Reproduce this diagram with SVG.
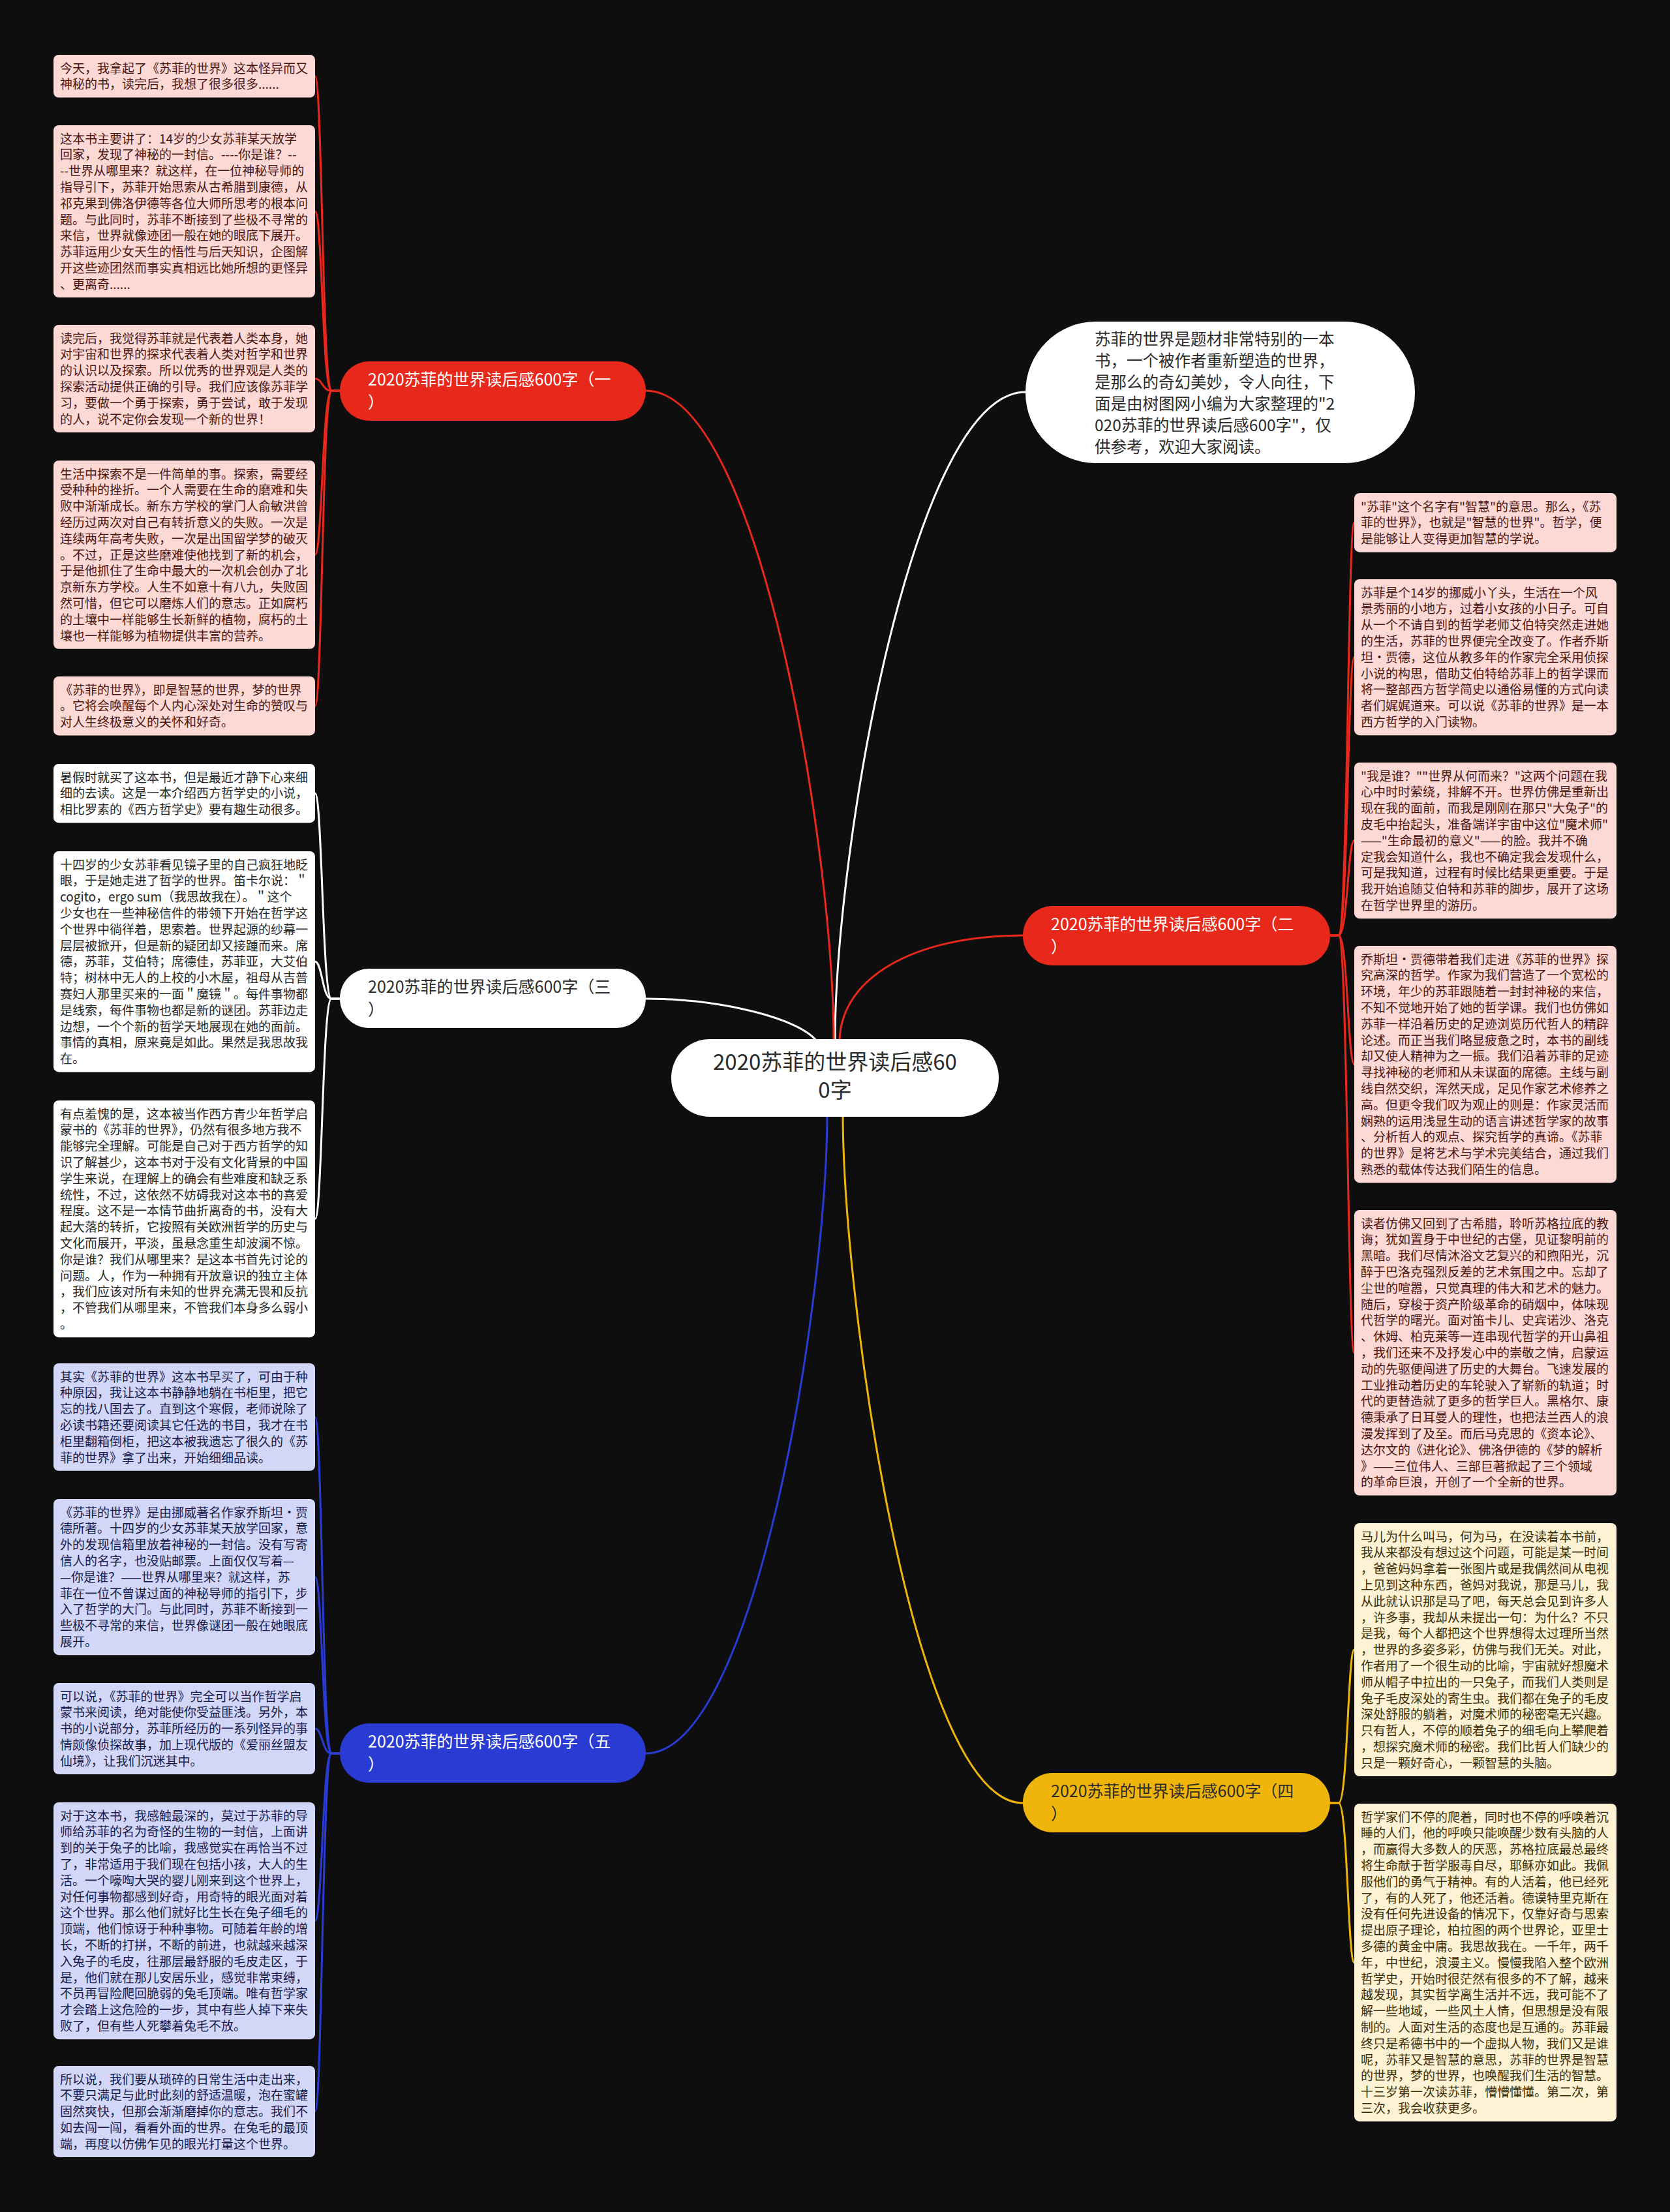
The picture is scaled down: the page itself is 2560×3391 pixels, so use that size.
<svg xmlns="http://www.w3.org/2000/svg" width="2560" height="3391" viewBox="0 0 2560 3391">
<style>
text{font-family:"Noto Sans CJK SC","Noto Sans",sans-serif}
.lf{font-size:19px}
.bt{font-size:25px}
.rl rect{fill:#fdd9d5}.rl text{fill:#4a1510}
.wl rect{fill:#ffffff}.wl text{fill:#262626}
.bl rect{fill:#d3d7f7}.bl text{fill:#161a4c}
.yl rect{fill:#fdf2d4}.yl text{fill:#3b2e05}
.c{fill:none;stroke-width:3}
.cr{stroke:#e8281b}.cw{stroke:#ffffff}.cb{stroke:#2a3bd4}.cy{stroke:#f0b50a}
</style>
<rect x="0" y="0" width="2560" height="3391" fill="#0e0e0e"/>
<g id="connectors">
<path class="c cw" d="M1280 1598 C1280 1300 1400 601 1572 601"/>
<path class="c cr" d="M1278 1598 C1278 1300 1163 599 990 599"/>
<path class="c cr" d="M1287 1598 C1287 1500 1400 1434 1568 1434"/>
<path class="c cw" d="M1255 1600 C1230 1560 1100 1531 990 1531"/>
<path class="c cb" d="M1268 1705 C1268 1995 1157 2688 990 2688"/>
<path class="c cy" d="M1292 1705 C1292 1995 1400 2764 1568 2764"/>
<path class="c cr" d="M521 599 H508 C494 599 494 116.8 483 116.8"/>
<path class="c cr" d="M521 599 H508 C494 599 494 324 483 324"/>
<path class="c cr" d="M521 599 H508 C494 599 494 580.4 483 580.4"/>
<path class="c cr" d="M521 599 H508 C494 599 494 850.4 483 850.4"/>
<path class="c cr" d="M521 599 H508 C494 599 494 1082.2 483 1082.2"/>
<path class="c cw" d="M521 1531 H508 C494 1531 494 1216.2 483 1216.2"/>
<path class="c cw" d="M521 1531 H508 C494 1531 494 1474.2 483 1474.2"/>
<path class="c cw" d="M521 1531 H508 C494 1531 494 1868.6 483 1868.6"/>
<path class="c cb" d="M521 2688 H508 C494 2688 494 2172.4 483 2172.4"/>
<path class="c cb" d="M521 2688 H508 C494 2688 494 2417.6 483 2417.6"/>
<path class="c cb" d="M521 2688 H508 C494 2688 494 2650 483 2650"/>
<path class="c cb" d="M521 2688 H508 C494 2688 494 2944.6 483 2944.6"/>
<path class="c cb" d="M521 2688 H508 C494 2688 494 3237 483 3237"/>
<path class="c cr" d="M2039 1434 H2052 C2066 1434 2066 801.2 2076 801.2"/>
<path class="c cr" d="M2039 1434 H2052 C2066 1434 2066 1007.6 2076 1007.6"/>
<path class="c cr" d="M2039 1434 H2052 C2066 1434 2066 1288.6 2076 1288.6"/>
<path class="c cr" d="M2039 1434 H2052 C2066 1434 2066 1631.6 2076 1631.6"/>
<path class="c cr" d="M2039 1434 H2052 C2066 1434 2066 2073.8 2076 2073.8"/>
<path class="c cy" d="M2039 2764 H2052 C2066 2764 2066 2529 2076 2529"/>
<path class="c cy" d="M2039 2764 H2052 C2066 2764 2066 3008.6 2076 3008.6"/>
</g>
<g id="center">
<rect x="1029" y="1593" width="502" height="119" rx="59" fill="#ffffff"/>
<text x="1280" y="1640" text-anchor="middle" font-size="33" fill="#2b2b2b">2020苏菲的世界读后感60</text>
<text x="1280" y="1683" text-anchor="middle" font-size="33" fill="#2b2b2b">0字</text>
</g>
<g id="intro">
<rect x="1572" y="493" width="597" height="217" rx="108" fill="#ffffff"/>
<text font-size="24.5" fill="#2b2b2b">
<tspan x="1678" y="529">苏菲的世界是题材非常特别的一本</tspan>
<tspan x="1678" y="562">书，一个被作者重新塑造的世界，</tspan>
<tspan x="1678" y="595">是那么的奇幻美妙，令人向往，下</tspan>
<tspan x="1678" y="628">面是由树图网小编为大家整理的"2</tspan>
<tspan x="1678" y="661">020苏菲的世界读后感600字"，仅</tspan>
<tspan x="1678" y="694">供参考，欢迎大家阅读。</tspan>
</text>
</g>
<g id="b1">
<rect x="521" y="554" width="469" height="91" rx="45" fill="#e8281b"/>
<text class="bt" fill="#ffffff"><tspan x="564" y="591">2020苏菲的世界读后感600字（一</tspan><tspan x="564" y="626">）</tspan></text>
</g>
<g id="b2">
<rect x="1568" y="1389" width="471" height="91" rx="45" fill="#e8281b"/>
<text class="bt" fill="#ffffff"><tspan x="1611" y="1426">2020苏菲的世界读后感600字（二</tspan><tspan x="1611" y="1461">）</tspan></text>
</g>
<g id="b3">
<rect x="521" y="1485" width="469" height="91" rx="45" fill="#ffffff"/>
<text class="bt" fill="#2b2b2b"><tspan x="564" y="1522">2020苏菲的世界读后感600字（三</tspan><tspan x="564" y="1557">）</tspan></text>
</g>
<g id="b4">
<rect x="1568" y="2718" width="471" height="91" rx="45" fill="#f0b50a"/>
<text class="bt" fill="#2b2b2b"><tspan x="1611" y="2755">2020苏菲的世界读后感600字（四</tspan><tspan x="1611" y="2790">）</tspan></text>
</g>
<g id="b5">
<rect x="521" y="2642" width="469" height="91" rx="45" fill="#2a3bd4"/>
<text class="bt" fill="#ffffff"><tspan x="564" y="2679">2020苏菲的世界读后感600字（五</tspan><tspan x="564" y="2714">）</tspan></text>
</g>
<g id="L1" class="rl" transform="translate(82,84)">
<rect width="401" height="65.6" rx="8"/>
<text class="lf"><tspan x="10" y="27.6">今天，我拿起了《苏菲的世界》这本怪异而又</tspan><tspan x="10" dy="24.8">神秘的书，读完后，我想了很多很多......</tspan></text>
</g>
<g id="L2" class="rl" transform="translate(82,192)">
<rect width="401" height="264" rx="8"/>
<text class="lf"><tspan x="10" y="27.6">这本书主要讲了：14岁的少女苏菲某天放学</tspan><tspan x="10" dy="24.8">回家，发现了神秘的一封信。----你是谁？--</tspan><tspan x="10" dy="24.8">--世界从哪里来？就这样，在一位神秘导师的</tspan><tspan x="10" dy="24.8">指导引下，苏菲开始思索从古希腊到康德，从</tspan><tspan x="10" dy="24.8">祁克果到佛洛伊德等各位大师所思考的根本问</tspan><tspan x="10" dy="24.8">题。与此同时，苏菲不断接到了些极不寻常的</tspan><tspan x="10" dy="24.8">来信，世界就像迹团一般在她的眼底下展开。</tspan><tspan x="10" dy="24.8">苏菲运用少女天生的悟性与后天知识，企图解</tspan><tspan x="10" dy="24.8">开这些迹团然而事实真相远比她所想的更怪异</tspan><tspan x="10" dy="24.8">、更离奇......</tspan></text>
</g>
<g id="L3" class="rl" transform="translate(82,498)">
<rect width="401" height="164.8" rx="8"/>
<text class="lf"><tspan x="10" y="27.6">读完后，我觉得苏菲就是代表着人类本身，她</tspan><tspan x="10" dy="24.8">对宇宙和世界的探求代表着人类对哲学和世界</tspan><tspan x="10" dy="24.8">的认识以及探索。所以优秀的世界观是人类的</tspan><tspan x="10" dy="24.8">探索活动提供正确的引导。我们应该像苏菲学</tspan><tspan x="10" dy="24.8">习，要做一个勇于探索，勇于尝试，敢于发现</tspan><tspan x="10" dy="24.8">的人，说不定你会发现一个新的世界！</tspan></text>
</g>
<g id="L4" class="rl" transform="translate(82,706)">
<rect width="401" height="288.8" rx="8"/>
<text class="lf"><tspan x="10" y="27.6">生活中探索不是一件简单的事。探索，需要经</tspan><tspan x="10" dy="24.8">受种种的挫折。一个人需要在生命的磨难和失</tspan><tspan x="10" dy="24.8">败中渐渐成长。新东方学校的掌门人俞敏洪曾</tspan><tspan x="10" dy="24.8">经历过两次对自己有转折意义的失败。一次是</tspan><tspan x="10" dy="24.8">连续两年高考失败，一次是出国留学梦的破灭</tspan><tspan x="10" dy="24.8">。不过，正是这些磨难使他找到了新的机会，</tspan><tspan x="10" dy="24.8">于是他抓住了生命中最大的一次机会创办了北</tspan><tspan x="10" dy="24.8">京新东方学校。人生不如意十有八九，失败固</tspan><tspan x="10" dy="24.8">然可惜，但它可以磨炼人们的意志。正如腐朽</tspan><tspan x="10" dy="24.8">的土壤中一样能够生长新鲜的植物，腐朽的土</tspan><tspan x="10" dy="24.8">壤也一样能够为植物提供丰富的营养。</tspan></text>
</g>
<g id="L5" class="rl" transform="translate(82,1037)">
<rect width="401" height="90.4" rx="8"/>
<text class="lf"><tspan x="10" y="27.6">《苏菲的世界》，即是智慧的世界，梦的世界</tspan><tspan x="10" dy="24.8">。它将会唤醒每个人内心深处对生命的赞叹与</tspan><tspan x="10" dy="24.8">对人生终极意义的关怀和好奇。</tspan></text>
</g>
<g id="L6" class="wl" transform="translate(82,1171)">
<rect width="401" height="90.4" rx="8"/>
<text class="lf"><tspan x="10" y="27.6">暑假时就买了这本书，但是最近才静下心来细</tspan><tspan x="10" dy="24.8">细的去读。这是一本介绍西方哲学史的小说，</tspan><tspan x="10" dy="24.8">相比罗素的《西方哲学史》要有趣生动很多。</tspan></text>
</g>
<g id="L7" class="wl" transform="translate(82,1305)">
<rect width="401" height="338.4" rx="8"/>
<text class="lf"><tspan x="10" y="27.6">十四岁的少女苏菲看见镜子里的自己疯狂地眨</tspan><tspan x="10" dy="24.8">眼，于是她走进了哲学的世界。笛卡尔说：＂</tspan><tspan x="10" dy="24.8">cogito，ergo sum（我思故我在）。＂这个</tspan><tspan x="10" dy="24.8">少女也在一些神秘信件的带领下开始在哲学这</tspan><tspan x="10" dy="24.8">个世界中徜徉着，思索着。世界起源的纱幕一</tspan><tspan x="10" dy="24.8">层层被掀开，但是新的疑团却又接踵而来。席</tspan><tspan x="10" dy="24.8">德，苏菲，艾伯特；席德佳，苏菲亚，大艾伯</tspan><tspan x="10" dy="24.8">特；树林中无人的上校的小木屋，祖母从吉普</tspan><tspan x="10" dy="24.8">赛妇人那里买来的一面＂魔镜＂。每件事物都</tspan><tspan x="10" dy="24.8">是线索，每件事物也都是新的谜团。苏菲边走</tspan><tspan x="10" dy="24.8">边想，一个个新的哲学天地展现在她的面前。</tspan><tspan x="10" dy="24.8">事情的真相，原来竟是如此。果然是我思故我</tspan><tspan x="10" dy="24.8">在。</tspan></text>
</g>
<g id="L8" class="wl" transform="translate(82,1687)">
<rect width="401" height="363.2" rx="8"/>
<text class="lf"><tspan x="10" y="27.6">有点羞愧的是，这本被当作西方青少年哲学启</tspan><tspan x="10" dy="24.8">蒙书的《苏菲的世界》，仍然有很多地方我不</tspan><tspan x="10" dy="24.8">能够完全理解。可能是自己对于西方哲学的知</tspan><tspan x="10" dy="24.8">识了解甚少，这本书对于没有文化背景的中国</tspan><tspan x="10" dy="24.8">学生来说，在理解上的确会有些难度和缺乏系</tspan><tspan x="10" dy="24.8">统性，不过，这依然不妨碍我对这本书的喜爱</tspan><tspan x="10" dy="24.8">程度。这不是一本情节曲折离奇的书，没有大</tspan><tspan x="10" dy="24.8">起大落的转折，它按照有关欧洲哲学的历史与</tspan><tspan x="10" dy="24.8">文化而展开，平淡，虽悬念重生却波澜不惊。</tspan><tspan x="10" dy="24.8">你是谁？我们从哪里来？是这本书首先讨论的</tspan><tspan x="10" dy="24.8">问题。人，作为一种拥有开放意识的独立主体</tspan><tspan x="10" dy="24.8">，我们应该对所有未知的世界充满无畏和反抗</tspan><tspan x="10" dy="24.8">，不管我们从哪里来，不管我们本身多么弱小</tspan><tspan x="10" dy="24.8">。</tspan></text>
</g>
<g id="L9" class="bl" transform="translate(82,2090)">
<rect width="401" height="164.8" rx="8"/>
<text class="lf"><tspan x="10" y="27.6">其实《苏菲的世界》这本书早买了，可由于种</tspan><tspan x="10" dy="24.8">种原因，我让这本书静静地躺在书柜里，把它</tspan><tspan x="10" dy="24.8">忘的找八国去了。直到这个寒假，老师说除了</tspan><tspan x="10" dy="24.8">必读书籍还要阅读其它任选的书目，我才在书</tspan><tspan x="10" dy="24.8">柜里翻箱倒柜，把这本被我遗忘了很久的《苏</tspan><tspan x="10" dy="24.8">菲的世界》拿了出来，开始细细品读。</tspan></text>
</g>
<g id="L10" class="bl" transform="translate(82,2298)">
<rect width="401" height="239.2" rx="8"/>
<text class="lf"><tspan x="10" y="27.6">《苏菲的世界》是由挪威著名作家乔斯坦•贾</tspan><tspan x="10" dy="24.8">德所著。十四岁的少女苏菲某天放学回家，意</tspan><tspan x="10" dy="24.8">外的发现信箱里放着神秘的一封信。没有写寄</tspan><tspan x="10" dy="24.8">信人的名字，也没贴邮票。上面仅仅写着—</tspan><tspan x="10" dy="24.8">—你是谁？——世界从哪里来？就这样，苏</tspan><tspan x="10" dy="24.8">菲在一位不曾谋过面的神秘导师的指引下，步</tspan><tspan x="10" dy="24.8">入了哲学的大门。与此同时，苏菲不断接到一</tspan><tspan x="10" dy="24.8">些极不寻常的来信，世界像谜团一般在她眼底</tspan><tspan x="10" dy="24.8">展开。</tspan></text>
</g>
<g id="L11" class="bl" transform="translate(82,2580)">
<rect width="401" height="140" rx="8"/>
<text class="lf"><tspan x="10" y="27.6">可以说，《苏菲的世界》完全可以当作哲学启</tspan><tspan x="10" dy="24.8">蒙书来阅读，绝对能使你受益匪浅。另外，本</tspan><tspan x="10" dy="24.8">书的小说部分，苏菲所经历的一系列怪异的事</tspan><tspan x="10" dy="24.8">情颇像侦探故事，加上现代版的《爱丽丝盟友</tspan><tspan x="10" dy="24.8">仙境》，让我们沉迷其中。</tspan></text>
</g>
<g id="L12" class="bl" transform="translate(82,2763)">
<rect width="401" height="363.2" rx="8"/>
<text class="lf"><tspan x="10" y="27.6">对于这本书，我感触最深的，莫过于苏菲的导</tspan><tspan x="10" dy="24.8">师给苏菲的名为奇怪的生物的一封信，上面讲</tspan><tspan x="10" dy="24.8">到的关于兔子的比喻，我感觉实在再恰当不过</tspan><tspan x="10" dy="24.8">了，非常适用于我们现在包括小孩，大人的生</tspan><tspan x="10" dy="24.8">活。一个嚎啕大哭的婴儿刚来到这个世界上，</tspan><tspan x="10" dy="24.8">对任何事物都感到好奇，用奇特的眼光面对着</tspan><tspan x="10" dy="24.8">这个世界。那么他们就好比生长在兔子细毛的</tspan><tspan x="10" dy="24.8">顶端，他们惊讶于种种事物。可随着年龄的增</tspan><tspan x="10" dy="24.8">长，不断的打拼，不断的前进，也就越来越深</tspan><tspan x="10" dy="24.8">入兔子的毛皮，往那层最舒服的毛皮走区，于</tspan><tspan x="10" dy="24.8">是，他们就在那儿安居乐业，感觉非常束缚，</tspan><tspan x="10" dy="24.8">不员再冒险爬回脆弱的兔毛顶端。唯有哲学家</tspan><tspan x="10" dy="24.8">才会踏上这危险的一步，其中有些人掉下来失</tspan><tspan x="10" dy="24.8">败了，但有些人死攀着兔毛不放。</tspan></text>
</g>
<g id="L13" class="bl" transform="translate(82,3167)">
<rect width="401" height="140" rx="8"/>
<text class="lf"><tspan x="10" y="27.6">所以说，我们要从琐碎的日常生活中走出来，</tspan><tspan x="10" dy="24.8">不要只满足与此时此刻的舒适温暖，泡在蜜罐</tspan><tspan x="10" dy="24.8">固然爽快，但那会渐渐磨掉你的意志。我们不</tspan><tspan x="10" dy="24.8">如去闯一闯，看看外面的世界。在兔毛的最顶</tspan><tspan x="10" dy="24.8">端，再度以仿佛乍见的眼光打量这个世界。</tspan></text>
</g>
<g id="R1" class="rl" transform="translate(2076,756)">
<rect width="402" height="90.4" rx="8"/>
<text class="lf"><tspan x="10" y="27.6">"苏菲"这个名字有"智慧"的意思。那么，《苏</tspan><tspan x="10" dy="24.8">菲的世界》，也就是"智慧的世界"。哲学，便</tspan><tspan x="10" dy="24.8">是能够让人变得更加智慧的学说。</tspan></text>
</g>
<g id="R2" class="rl" transform="translate(2076,888)">
<rect width="402" height="239.2" rx="8"/>
<text class="lf"><tspan x="10" y="27.6">苏菲是个14岁的挪威小丫头，生活在一个风</tspan><tspan x="10" dy="24.8">景秀丽的小地方，过着小女孩的小日子。可自</tspan><tspan x="10" dy="24.8">从一个不请自到的哲学老师艾伯特突然走进她</tspan><tspan x="10" dy="24.8">的生活，苏菲的世界便完全改变了。作者乔斯</tspan><tspan x="10" dy="24.8">坦·贾德，这位从教多年的作家完全采用侦探</tspan><tspan x="10" dy="24.8">小说的构思，借助艾伯特给苏菲上的哲学课而</tspan><tspan x="10" dy="24.8">将一整部西方哲学简史以通俗易懂的方式向读</tspan><tspan x="10" dy="24.8">者们娓娓道来。可以说《苏菲的世界》是一本</tspan><tspan x="10" dy="24.8">西方哲学的入门读物。</tspan></text>
</g>
<g id="R3" class="rl" transform="translate(2076,1169)">
<rect width="402" height="239.2" rx="8"/>
<text class="lf"><tspan x="10" y="27.6">"我是谁？""世界从何而来？"这两个问题在我</tspan><tspan x="10" dy="24.8">心中时时萦绕，排解不开。世界仿佛是重新出</tspan><tspan x="10" dy="24.8">现在我的面前，而我是刚刚在那只"大兔子"的</tspan><tspan x="10" dy="24.8">皮毛中抬起头，准备端详宇宙中这位"魔术师"</tspan><tspan x="10" dy="24.8">——"生命最初的意义"——的脸。我并不确</tspan><tspan x="10" dy="24.8">定我会知道什么，我也不确定我会发现什么，</tspan><tspan x="10" dy="24.8">可是我知道，过程有时候比结果更重要。于是</tspan><tspan x="10" dy="24.8">我开始追随艾伯特和苏菲的脚步，展开了这场</tspan><tspan x="10" dy="24.8">在哲学世界里的游历。</tspan></text>
</g>
<g id="R4" class="rl" transform="translate(2076,1450)">
<rect width="402" height="363.2" rx="8"/>
<text class="lf"><tspan x="10" y="27.6">乔斯坦·贾德带着我们走进《苏菲的世界》探</tspan><tspan x="10" dy="24.8">究高深的哲学。作家为我们营造了一个宽松的</tspan><tspan x="10" dy="24.8">环境，年少的苏菲跟随着一封封神秘的来信，</tspan><tspan x="10" dy="24.8">不知不觉地开始了她的哲学课。我们也仿佛如</tspan><tspan x="10" dy="24.8">苏菲一样沿着历史的足迹浏览历代哲人的精辟</tspan><tspan x="10" dy="24.8">论述。而正当我们略显疲惫之时，本书的副线</tspan><tspan x="10" dy="24.8">却又使人精神为之一振。我们沿着苏菲的足迹</tspan><tspan x="10" dy="24.8">寻找神秘的老师和从未谋面的席德。主线与副</tspan><tspan x="10" dy="24.8">线自然交织，浑然天成，足见作家艺术修养之</tspan><tspan x="10" dy="24.8">高。但更令我们叹为观止的则是：作家灵活而</tspan><tspan x="10" dy="24.8">娴熟的运用浅显生动的语言讲述哲学家的故事</tspan><tspan x="10" dy="24.8">、分析哲人的观点、探究哲学的真谛。《苏菲</tspan><tspan x="10" dy="24.8">的世界》是将艺术与学术完美结合，通过我们</tspan><tspan x="10" dy="24.8">熟悉的载体传达我们陌生的信息。</tspan></text>
</g>
<g id="R5" class="rl" transform="translate(2076,1855)">
<rect width="402" height="437.6" rx="8"/>
<text class="lf"><tspan x="10" y="27.6">读者仿佛又回到了古希腊，聆听苏格拉底的教</tspan><tspan x="10" dy="24.8">诲；犹如置身于中世纪的古堡，见证黎明前的</tspan><tspan x="10" dy="24.8">黑暗。我们尽情沐浴文艺复兴的和煦阳光，沉</tspan><tspan x="10" dy="24.8">醉于巴洛克强烈反差的艺术氛围之中。忘却了</tspan><tspan x="10" dy="24.8">尘世的喧嚣，只觉真理的伟大和艺术的魅力。</tspan><tspan x="10" dy="24.8">随后，穿梭于资产阶级革命的硝烟中，体味现</tspan><tspan x="10" dy="24.8">代哲学的曙光。面对笛卡儿、史宾诺沙、洛克</tspan><tspan x="10" dy="24.8">、休姆、柏克莱等一连串现代哲学的开山鼻祖</tspan><tspan x="10" dy="24.8">，我们还来不及抒发心中的崇敬之情，启蒙运</tspan><tspan x="10" dy="24.8">动的先驱便闯进了历史的大舞台。飞速发展的</tspan><tspan x="10" dy="24.8">工业推动着历史的车轮驶入了崭新的轨道；时</tspan><tspan x="10" dy="24.8">代的更替造就了更多的哲学巨人。黑格尔、康</tspan><tspan x="10" dy="24.8">德秉承了日耳曼人的理性，也把法兰西人的浪</tspan><tspan x="10" dy="24.8">漫发挥到了及至。而后马克思的《资本论》、</tspan><tspan x="10" dy="24.8">达尔文的《进化论》、佛洛伊德的《梦的解析</tspan><tspan x="10" dy="24.8">》——三位伟人、三部巨著掀起了三个领域</tspan><tspan x="10" dy="24.8">的革命巨浪，开创了一个全新的世界。</tspan></text>
</g>
<g id="R6" class="yl" transform="translate(2076,2335)">
<rect width="402" height="388" rx="8"/>
<text class="lf"><tspan x="10" y="27.6">马儿为什么叫马，何为马，在没读着本书前，</tspan><tspan x="10" dy="24.8">我从来都没有想过这个问题，可能是某一时间</tspan><tspan x="10" dy="24.8">，爸爸妈妈拿着一张图片或是我偶然间从电视</tspan><tspan x="10" dy="24.8">上见到这种东西，爸妈对我说，那是马儿，我</tspan><tspan x="10" dy="24.8">从此就认识那是马了吧，每天总会见到许多人</tspan><tspan x="10" dy="24.8">，许多事，我却从未提出一句：为什么？不只</tspan><tspan x="10" dy="24.8">是我，每个人都把这个世界想得太过理所当然</tspan><tspan x="10" dy="24.8">，世界的多姿多彩，仿佛与我们无关。对此，</tspan><tspan x="10" dy="24.8">作者用了一个很生动的比喻，宇宙就好想魔术</tspan><tspan x="10" dy="24.8">师从帽子中拉出的一只兔子，而我们人类则是</tspan><tspan x="10" dy="24.8">兔子毛皮深处的寄生虫。我们都在兔子的毛皮</tspan><tspan x="10" dy="24.8">深处舒服的躺着，对魔术师的秘密毫无兴趣。</tspan><tspan x="10" dy="24.8">只有哲人，不停的顺着兔子的细毛向上攀爬着</tspan><tspan x="10" dy="24.8">，想探究魔术师的秘密。我们比哲人们缺少的</tspan><tspan x="10" dy="24.8">只是一颗好奇心，一颗智慧的头脑。</tspan></text>
</g>
<g id="R7" class="yl" transform="translate(2076,2765)">
<rect width="402" height="487.2" rx="8"/>
<text class="lf"><tspan x="10" y="27.6">哲学家们不停的爬着，同时也不停的呼唤着沉</tspan><tspan x="10" dy="24.8">睡的人们，他的呼唤只能唤醒少数有头脑的人</tspan><tspan x="10" dy="24.8">，而赢得大多数人的厌恶，苏格拉底最总最终</tspan><tspan x="10" dy="24.8">将生命献于哲学服毒自尽，耶稣亦如此。我佩</tspan><tspan x="10" dy="24.8">服他们的勇气于精神。有的人活着，他已经死</tspan><tspan x="10" dy="24.8">了，有的人死了，他还活着。德谟特里克斯在</tspan><tspan x="10" dy="24.8">没有任何先进设备的情况下，仅靠好奇与思索</tspan><tspan x="10" dy="24.8">提出原子理论，柏拉图的两个世界论，亚里士</tspan><tspan x="10" dy="24.8">多德的黄金中庸。我思故我在。一千年，两千</tspan><tspan x="10" dy="24.8">年，中世纪，浪漫主义。慢慢我陷入整个欧洲</tspan><tspan x="10" dy="24.8">哲学史，开始时很茫然有很多的不了解，越来</tspan><tspan x="10" dy="24.8">越发现，其实哲学离生活并不远，我可能不了</tspan><tspan x="10" dy="24.8">解一些地域，一些风土人情，但思想是没有限</tspan><tspan x="10" dy="24.8">制的。人面对生活的态度也是互通的。苏菲最</tspan><tspan x="10" dy="24.8">终只是希德书中的一个虚拟人物，我们又是谁</tspan><tspan x="10" dy="24.8">呢，苏菲又是智慧的意思，苏菲的世界是智慧</tspan><tspan x="10" dy="24.8">的世界，梦的世界，也唤醒我们生活的智慧。</tspan><tspan x="10" dy="24.8">十三岁第一次读苏菲，懵懵懂懂。第二次，第</tspan><tspan x="10" dy="24.8">三次，我会收获更多。</tspan></text>
</g>
</svg>
